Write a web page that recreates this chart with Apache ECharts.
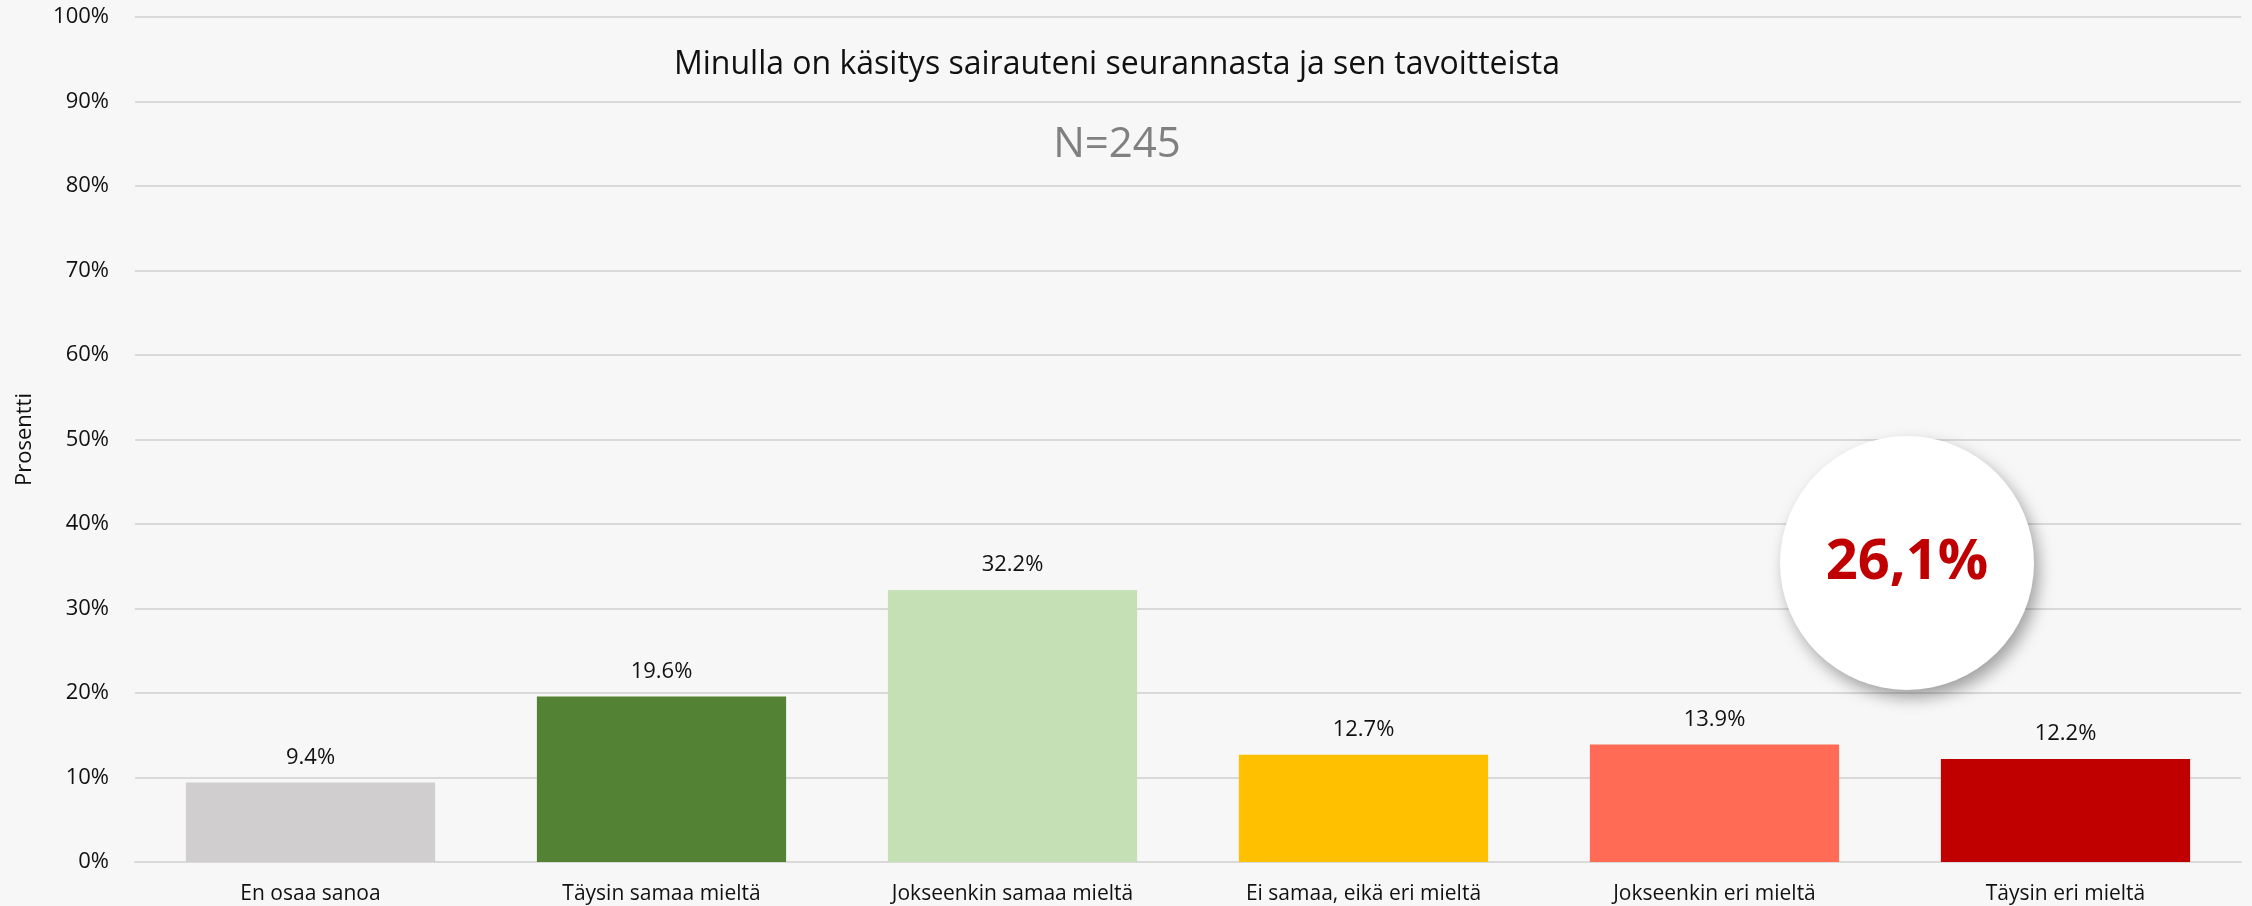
<!DOCTYPE html>
<html>
<head>
<meta charset="utf-8">
<script src="https://cdn.jsdelivr.net/npm/echarts@6/dist/echarts.min.js"></script>
<style>
  html, body { margin: 0; padding: 0; background: #f7f7f7; }
  #chart { width: 2252px; height: 906px; }
</style>
</head>
<body>
<div id="chart"></div>
<script>
// vastausvaihtoehdot ja osuudet (%)
var categories = ['En osaa sanoa', 'Täysin samaa mieltä', 'Jokseenkin samaa mieltä',
    'Ei samaa, eikä eri mieltä', 'Jokseenkin eri mieltä', 'Täysin eri mieltä'];
var values = [9.4, 19.6, 32.2, 12.7, 13.9, 12.2];
var barColors = ['#d0cece', '#548235', '#c5e0b4', '#ffc000', '#ff6b55', '#c00000'];
var titleText = 'Minulla on käsitys sairauteni seurannasta ja sen tavoitteista';
var subText = 'N=245';
var badgeText = '26,1%';

var font = '"Open Sans", sans-serif';
var myChart = echarts.init(document.getElementById('chart'));

var option = {
    backgroundColor: '#f7f7f7',
    textStyle: { fontFamily: font },
    grid: { left: 135, right: 11, top: 17, bottom: 44 },
    xAxis: {
        type: 'category',
        data: categories,
        axisLine: { lineStyle: { color: '#d9d9d9', width: 2 } },
        axisTick: { show: false },
        axisLabel: { color: '#111', fontSize: 21, fontFamily: font, margin: 22 }
    },
    yAxis: {
        type: 'value',
        min: 0,
        max: 100,
        interval: 10,
        name: 'Prosentti',
        nameLocation: 'middle',
        nameGap: 99,
        nameTextStyle: { color: '#111', fontSize: 22, fontFamily: font },
        axisLabel: { formatter: '{value}%', color: '#111', fontSize: 22, fontFamily: font, margin: 26 },
        splitLine: { lineStyle: { color: '#d9d9d9', width: 2 } }
    },
    series: [{
        type: 'bar',
        barWidth: '71%',
        data: values.map(function (v, i) {
            return { value: v, itemStyle: { color: barColors[i] } };
        }),
        label: {
            show: true,
            position: 'top',
            distance: 14,
            color: '#111',
            fontSize: 22,
            fontFamily: font,
            formatter: function (p) { return p.value.toFixed(1) + '%'; }
        }
    }],
    graphic: [
        {
            type: 'text', x: 1117, y: 65, z: 10,
            style: { text: titleText, align: 'center', verticalAlign: 'middle', fill: '#111', font: '32px ' + font }
        },
        {
            type: 'text', x: 1117, y: 145, z: 10,
            style: { text: subText, align: 'center', verticalAlign: 'middle', fill: '#808080', font: '42px ' + font }
        },
        {
            type: 'circle', z: 20,
            shape: { cx: 1907, cy: 563, r: 127 },
            style: { fill: '#ffffff', shadowBlur: 16, shadowOffsetX: 5, shadowOffsetY: 8, shadowColor: 'rgba(0,0,0,0.35)' }
        },
        {
            type: 'text', z: 21, x: 1907, y: 563,
            style: { text: badgeText, align: 'center', verticalAlign: 'middle', fill: '#c00000', font: 'bold 56px ' + font }
        }
    ]
};
myChart.setOption(option);
</script>
</body>
</html>
